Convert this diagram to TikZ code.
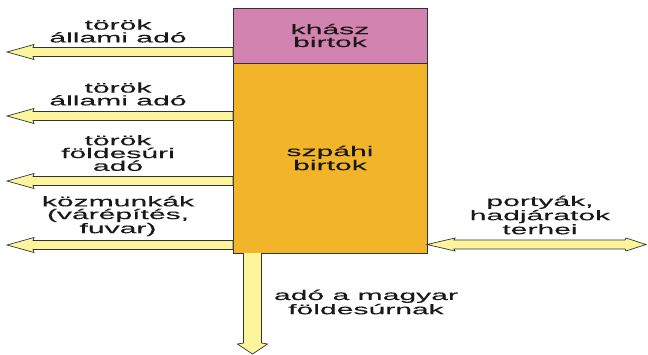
\documentclass[tikz,border=0pt]{standalone}
\usepackage{fontspec}
\setmainfont[FakeStretch=2.15,FakeBold=0.15]{Liberation Sans}
\usetikzlibrary{calc}
\definecolor{khaszc}{HTML}{D383B0}
\definecolor{szpahic}{HTML}{F2B52A}
\definecolor{arrfill}{HTML}{FCF59C}
\definecolor{edge}{HTML}{333333}
\tikzset{
  estate/.style={draw=edge,line width=0.9pt,minimum width=194pt,inner sep=0pt,outer sep=0pt,
    font=\fontsize{14}{12.8}\selectfont,align=center,text=black!90},
  lbl/.style={font=\fontsize{14}{12.8}\selectfont,align=center,inner sep=0pt,text=black!90},
  arr/.style={draw=edge,fill=arrfill,line width=0.7pt,line join=miter},
  larrow/.pic={\draw[arr] (0,-4.5) -- (-200,-4.5) -- (-199,-7.5) -- (-226,0) -- (-199,7.5) -- (-200,4.5) -- (0,4.5) -- cycle;}
}
\begin{document}
\begin{tikzpicture}[x=1pt,y=-1pt]
\useasboundingbox (0,0) rectangle (648,354);
% estates
\node[estate,fill=khaszc,minimum height=55pt] (khasz) at (330,35.5) {khász\\birtok};
\node[estate,fill=szpahic,minimum height=190pt,anchor=north] (szpahi) at (khasz.south) {szpáhi\\birtok};
% left arrows
\pic at (khasz.west |- 0,52) {larrow};
\pic at (szpahi.west |- 0,116) {larrow};
\pic at (szpahi.west |- 0,181) {larrow};
\pic at (szpahi.west |- 0,245) {larrow};
% right double arrow
\coordinate (rs) at (szpahi.east |- 0,244.5);
\coordinate (re) at (646,244.5);
\draw[arr] (rs) -- ($(rs)+(28,-6.5)$) -- ($(rs)+(27,-4.5)$) -- ($(re)+(-21,-4.5)$) -- ($(re)+(-20,-6.5)$) -- (re)
  -- ($(re)+(-20,6.5)$) -- ($(re)+(-21,4.5)$) -- ($(rs)+(27,4.5)$) -- ($(rs)+(28,6.5)$) -- cycle;
% down arrow
\coordinate (ds) at (252.5,253);
\coordinate (de) at (252.5,354);
\draw[arr] ($(ds)+(-9,0)$) -- ($(de)+(-9,-11)$) -- ($(de)+(-15,-10)$) -- (de) -- ($(de)+(15,-10)$) -- ($(de)+(9,-11)$) -- ($(ds)+(9,0)$);
% labels
\node[lbl] (l1) at (118,31) {török\\állami adó};
\node[lbl] (l2) at (118,94) {török\\állami adó};
\node[lbl] (l3) at (118,153) {török\\földesúri\\adó};
\node[lbl] (l4) at (118,216) {közmunkák\\(várépítés,\\fuvar)};
\node[lbl] (l5) at (540,215) {portyák,\\hadjáratok\\terhei};
\node[lbl] (l6) at (366,302) {adó a magyar\\földesúrnak};
\end{tikzpicture}
\end{document}
